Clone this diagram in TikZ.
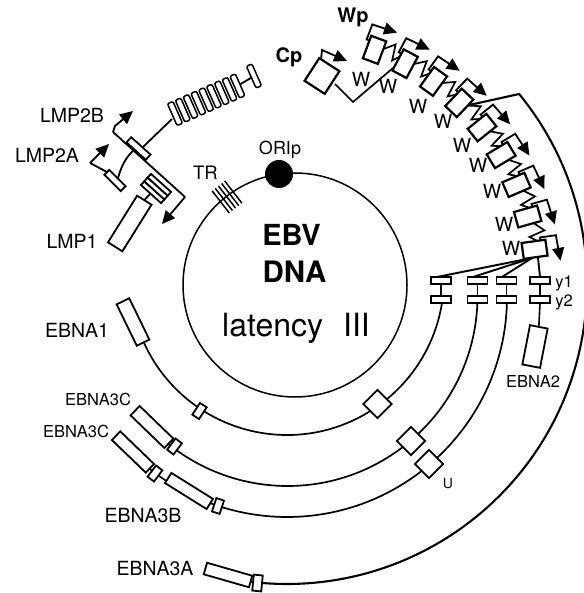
\documentclass[tikz,border=0pt]{standalone}
\usepackage{fontspec}
\setmainfont{TeX Gyre Heros}
\usetikzlibrary{calc,arrows.meta}
\begin{document}
\begin{tikzpicture}[x=1pt,y=-1pt,
  every node/.style={inner sep=0pt,outer sep=0pt},
  arcline/.style={line width=1.7pt},
  lmp/.style={line width=1.8pt},
  tipline/.style={line width=1.8pt,-{Triangle[length=13pt,width=12pt]}},
  wbox/.style={draw,fill=white,line width=2.2pt,minimum width=24pt,minimum height=16pt},
  sbox/.style={draw,fill=white,line width=1.6pt,minimum width=20pt,minimum height=7pt},
  ebox/.style 2 args={draw,fill=white,line width=1.8pt,minimum width=#1,minimum height=#2},
  lad/.style={draw,fill=white,line width=1.5pt,minimum width=24pt,minimum height=6pt,rounded corners=2pt,rotate=113.8},
  biglab/.style={font=\fontsize{19.5}{20}\selectfont,anchor=base},
  midlab/.style={font=\fontsize{16.5}{17}\selectfont,anchor=base},
  wlab/.style={font=\fontsize{19.5}{20}\selectfont},
  plab/.style={font=\bfseries\fontsize{20}{20}\selectfont,anchor=base}
]
\path[fill=white,use as bounding box] (0,0) rectangle (583,593);
\coordinate (C) at (287,284);
\coordinate (M) at (295,285);

% ---------- genome circle ----------
\draw[line width=1.5pt] (M) circle[radius=112];
\node[circle,fill=black,minimum size=28pt] (ori) at (279,174) {};
\node[font=\fontsize{18}{18}\selectfont,anchor=base] (orilab) at (280,155) {ORIp};
\coordinate (tr) at (227,197);
\foreach \o in {-8,-4,0,4,8}
  \draw[line width=1.5pt] ($(tr)+(-37.7:\o)+(-127.7:14)$) -- ($(tr)+(-37.7:\o)+(52.3:14)$);
\node[font=\fontsize{18.5}{19}\selectfont,anchor=base] (trlab) at (205.5,180) {TR};
\node[font=\bfseries\fontsize{29}{29}\selectfont,anchor=base] (ebv) at (291.5,245) {EBV};
\node[font=\bfseries\fontsize{29.5}{30}\selectfont,anchor=base] (dna) at (294.5,282) {DNA};
\node[font=\fontsize{32}{32}\selectfont,anchor=base] (lat) at (296,336) {latency\hspace{20pt}III};

% ---------- EBNA transcripts (arcs) ----------
\draw[arcline] (287,278) ++(9.2:157) arc[start angle=9.2,end angle=164,radius=157];
\draw[arcline] (287.5,296) ++(2.1:190) arc[start angle=2.1,end angle=138,radius=190];
\draw[arcline] (287,297) ++(1.6:220) arc[start angle=1.6,end angle=136,radius=220];
\coordinate (wj) at ($(C)+(-44.4:256)$);
\coordinate (aj) at ($(C)+(-39.3:300)$);
\draw[line width=2.1pt] (wj) -- (aj) arc[start angle=-39.3,end angle=101.5,radius=300];

% ---------- W splice zigzags ----------
\foreach \k in {1,...,8}{
  \pgfmathsetmacro\ta{69.5-7.69*(\k-1)}
  \pgfmathsetmacro\tb{\ta-7.69}
  \draw[line width=1.7pt] ($(C)+(-\ta+1.8:254)$) -- ($(C)+(-\ta+3.9:263)$) -- ($(C)+(-\tb-3.0:247)$) -- ($(C)+(-\tb-1.8:254)$);
}
% Cp splice
\draw[line width=1.7pt] (335,84) -- (353,102) -- (393,68);

% ---------- fan to EBNA exons ----------
\coordinate (fan) at (532,258);
\coordinate (fan2) at (538,258);
\draw[line width=1.9pt] (fan) -- (437,277);
\draw[line width=1.9pt] (fan) -- (473,277);
\draw[line width=1.9pt] (fan) -- (502,277);
\draw[line width=1.9pt] (fan2) -- (540,277);

% ---------- W boxes ----------
\foreach \k in {1,...,9}{
  \pgfmathsetmacro\t{69.5-7.69*(\k-1)}
  \node[wbox,rotate=\t] (w\k) at ($(C)+(-\t:250)$) {};
}
\foreach \k in {1,...,9}{
  \pgfmathsetmacro\t{69.5-7.69*(\k-1)}
  \draw[tipline] ($(w\k.center)+(-\t:7)+(-\t-90:8)$) -- ($(w\k.center)+(-\t:7)+(-\t-90:11)$) -- ($(w\k.center)+(-\t:23)+(-\t-90:11)$) -- ($(w\k.center)+(-\t:24)+(-\t+90:15)$);
}
\foreach \p [count=\i] in {(361,79),(388,86),(418,106),(443,121),(462,145),(478,165),(492,191),(504,224),(511,248)}
  \node[wlab] (wl\i) at \p {W};

% Cp box
\node[draw,fill=white,line width=2.2pt,minimum width=24pt,minimum height=27pt,rotate=-33] (cp) at (322,76) {};
\draw[tipline] (321,59.5) -- (322,50) -- (347,61);
\node[plab] (cplab) at (289,63) {Cp};
\node[plab] (wplab) at (353,23) {Wp};

% ---------- stacks ----------
\foreach \x/\n in {441/1,477.5/2,506.5/3,540/4}{
  \draw[line width=1.6pt] (\x,284) -- (\x,296);
  \node[sbox] (t\n) at (\x,280.5) {};
  \node[sbox] (b\n) at (\x,299.5) {};
}
\node[midlab] (y1) at (564,287) {y1};
\node[midlab] (y2) at (564,306) {y2};
\node[ebox={18pt}{40pt},rotate=-11] (e2) at (535,346.5) {};
\draw[line width=1.6pt] (b4.south) -- (e2.north);
\node[midlab] (e2lab) at (533,387) {EBNA2};

% ---------- exon boxes on arcs ----------
\node[ebox={46pt}{14pt},rotate=-64] (e1) at (133,322) {};
\node[ebox={14pt}{8pt},rotate=56.7] (e1s) at (199.5,411) {};
\node[ebox={20pt}{20pt},rotate=45] (d1) at (377.5,404) {};
\node[ebox={47pt}{13pt},rotate=-44] (e3cu) at (152,427) {};
\node[ebox={14pt}{8pt},rotate=53] (e3cus) at (174.5,446.5) {};
\node[ebox={20pt}{20pt},rotate=45] (d2) at (411,441) {};
\node[ebox={47pt}{12pt},rotate=-44] (e3cl) at (133,452) {};
\node[ebox={14pt}{8pt},rotate=53] (e3cls) at (155,473.5) {};
\node[ebox={49pt}{12pt},rotate=-32] (e3b) at (189,491) {};
\node[ebox={14pt}{8pt},rotate=71.7] (e3bs) at (218,506) {};
\node[ebox={20pt}{20pt},rotate=45] (d3) at (429,464) {};
\node[ebox={47pt}{12pt},rotate=-16] (e3a) at (228,575) {};
\node[ebox={16pt}{9pt},rotate=84.4] (e3as) at (257.5,583) {};

\node[biglab] (l1) at (77,337) {EBNA1};
\node[midlab] (l3cu) at (98,405) {EBNA3C};
\node[midlab] (l3cl) at (76,437) {EBNA3C};
\node[biglab] (l3b) at (143,522) {EBNA3B};
\node[biglab] (l3a) at (155,575) {EBNA3A};
\node[font=\fontsize{14}{14}\selectfont,anchor=base] (ulab) at (448,488) {U};

% ---------- LMP region ----------
\coordinate (bbA) at (113,132);
\coordinate (bbB) at (185,197);
\coordinate (l2a) at (90,163);
\draw[lmp] (bbA) -- (bbB);
\draw[tipline] (bbB) -- (162,224);
\draw[tipline] (bbA) -- (115,126) -- (133,111);
\draw[lmp] (107,172) -- (l2a);
\draw[tipline] (l2a) -- (109,144);
\draw[lmp] (118,178) .. controls (121,167) and (126,157) .. (133,151);
\draw[lmp] (143,147) -- (172,119);
\draw[lmp] (237.4,86) -- (254,76);
\draw[lmp] (144.3,200.2) -- (151,193);
\node[ebox={23pt}{7pt},rotate=-45] (lmp2a) at (115,180.5) {};
\node[ebox={26pt}{7pt},rotate=-42] (lmp2b) at (138.5,148.5) {};
\foreach \i in {0,...,8}
  \node[lad] (ld\i) at ($(175,113.5)+(\i*7.8,-\i*3.44)$) {};
\node[lad] (cap) at (254,76) {};
\foreach \o in {-5,0,5}
  \node[ebox={27pt}{5pt},rotate=-42] at ($(156,188.5)+(-48:\o)$) {};
\node[ebox={55pt}{17pt},rotate=58] (lmp1) at (129.75,223.5) {};

\node[biglab] (lab2b) at (72,123) {LMP2B};
\node[biglab] (lab2a) at (47,163) {LMP2A};
\node[biglab] (lab1) at (72,248) {LMP1};
\end{tikzpicture}
\end{document}
